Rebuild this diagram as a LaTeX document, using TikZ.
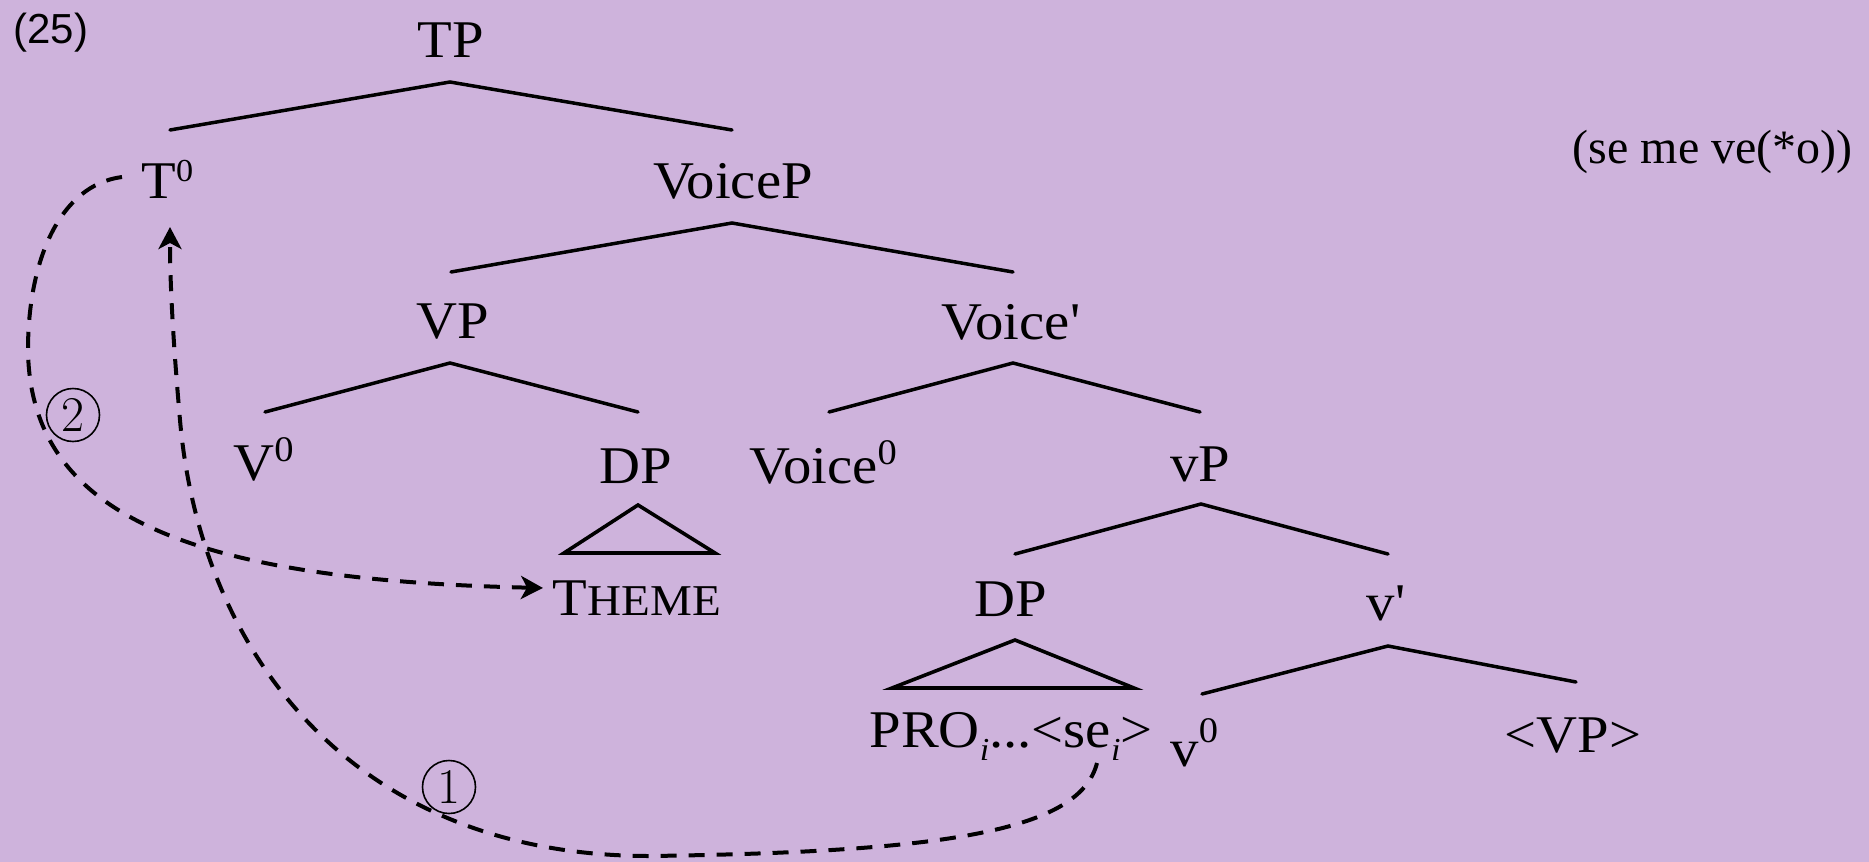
\documentclass[tikz,border=0pt]{standalone}
\usepackage{fontspec}
\newfontfamily\tnr{Liberation Serif}[FakeStretch=1.07]
\newfontfamily\tnrg{Liberation Serif}
\newfontfamily\lsans{Liberation Sans}
\usetikzlibrary{arrows.meta}
\definecolor{bgcol}{RGB}{206,179,220}
\newcommand{\supz}[3]{\raisebox{#1}{\fontsize{#2}{#2}\selectfont #3}}
\newcommand{\subi}{\raisebox{-6.5pt}{\fontsize{16}{16}\selectfont\itshape i}}
\begin{document}
\begin{tikzpicture}[x=0.5pt,y=-0.5pt,
  lab/.style={anchor=base,inner sep=0pt,font=\tnr\fontsize{26.5}{30}\selectfont},
  branch/.style={line width=1.75pt,line cap=round},
  tri/.style={line width=1.8pt,line join=miter},
  move/.style={line width=2pt,dash pattern=on 8pt off 6pt,-{Stealth[length=11pt,width=11.5pt,inset=3pt]}},
  circnum/.style={circle,draw,line width=0.8pt,minimum size=26.5pt,inner sep=0pt,font=\fontsize{25}{25}\selectfont}
]
\fill[bgcol] (0,0) rectangle (1869,862);
\useasboundingbox (0,0) rectangle (1869,862);

% labels
\node[anchor=base west,inner sep=0pt,font=\lsans\fontsize{21}{24}\selectfont] (ex) at (13,43) {(25)};
\node[lab] (TP) at (451,57) {TP};
\node[lab,anchor=base west] (T0) at (141,198) {T\supz{8.5pt}{16}{0}};
\node[lab] (VoiceP) at (733,198) {VoiceP};
\node[lab] (VP) at (453,338) {VP};
\node[lab] (Voicebar) at (1011,339) {Voice'};
\node[lab,anchor=base west] (V0) at (233,480) {V\supz{9.3pt}{18}{0}};
\node[lab] (DP1) at (636,483) {DP};
\node[lab,anchor=base west] (Voice0) at (749,483) {Voice\supz{9.3pt}{18}{0}};
\node[lab] (vP) at (1200,481) {vP};
\node[lab] (THEME) at (637,615) {T{\fontsize{22}{24}\selectfont HEME}};
\node[lab] (DP2) at (1011,616) {DP};
\node[lab] (vbar) at (1386,620) {v'};
\node[lab] (PRO) at (1011,747) {PRO\subi...<se\subi>};
\node[lab,anchor=base west] (v0) at (1170,766) {v\supz{12pt}{18}{0}};
\node[lab] (VPcopy) at (1573,752) {<VP>};
\node[anchor=base east,inner sep=0pt,font=\tnrg\fontsize{24}{28}\selectfont] (gloss) at (1853,163) {(se me ve(*o))};
\node[circnum] (c2) at (73,415) {2};
\node[circnum] (c1) at (449,787) {1};

% branch points
\coordinate (TPa) at (450,82);   \coordinate (TPl) at (170,130);  \coordinate (TPr) at (732,130);
\coordinate (VoPa) at (732,223); \coordinate (VoPl) at (451,272); \coordinate (VoPr) at (1013,272);
\coordinate (VPa) at (450,363);  \coordinate (VPl) at (265,412);  \coordinate (VPr) at (638,412);
\coordinate (Vba) at (1013,363); \coordinate (Vbl) at (829,412);  \coordinate (Vbr) at (1200,412);
\coordinate (vPa) at (1201,504); \coordinate (vPl) at (1015,554); \coordinate (vPr) at (1388,554);
\coordinate (vba) at (1388,646); \coordinate (vbl) at (1202,694); \coordinate (vbr) at (1576,682);
\coordinate (t1a) at (638,505);  \coordinate (t1l) at (564,553);  \coordinate (t1r) at (715,553);
\coordinate (t2a) at (1015,640); \coordinate (t2l) at (892,688);  \coordinate (t2r) at (1134,688);

\draw[branch] (TPl) -- (TPa) -- (TPr);
\draw[branch] (VoPl) -- (VoPa) -- (VoPr);
\draw[branch] (VPl) -- (VPa) -- (VPr);
\draw[branch] (Vbl) -- (Vba) -- (Vbr);
\draw[branch] (vPl) -- (vPa) -- (vPr);
\draw[branch] (vbl) -- (vba) -- (vbr);
\draw[tri] (t1a) -- (t1l) -- (t1r) -- cycle;
\draw[tri] (t2a) -- (t2l) -- (t2r) -- cycle;

% movement arrows
\coordinate (m2s) at (122,177);
\coordinate (m2m) at (28,350);
\coordinate (m2e) at (543,588);
\draw[move] (m2s) .. controls (60,185) and (28,260) .. (m2m)
  .. controls (30,520) and (200,580) .. (m2e);

\coordinate (m1s) at (1097,763);
\coordinate (m1b) at (650,856);
\coordinate (m1m) at (180,420);
\coordinate (m1e) at (170,227);
\draw[move] (m1s) .. controls (1080,830) and (950,852) .. (m1b)
  .. controls (350,856) and (200,650) .. (m1m)
  .. controls (174,351) and (170,290) .. (m1e);
\end{tikzpicture}
\end{document}
